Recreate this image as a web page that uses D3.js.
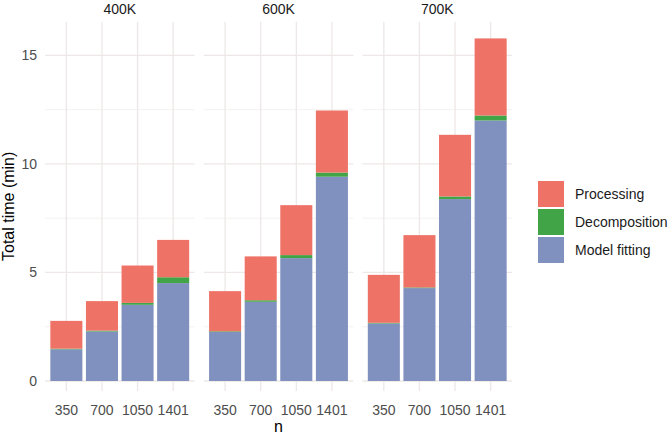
<!DOCTYPE html>
<html lang="en">
<head>
<meta charset="utf-8">
<title>Total time</title>
<script src="https://d3js.org/d3.v7.min.js"></script>
<style>
  body { margin: 0; background: #fff; }
  text { font-family: "Liberation Sans", Arial, sans-serif; }
</style>
</head>
<body>
<svg width="669" height="436"></svg>
<script>
// data (minutes)
var panels = ["400K", "600K", "700K"];
var sizes = ["350", "700", "1050", "1401"];
var modelFitting = [
  [1.46, 2.28, 3.51, 4.51],
  [2.26, 3.65, 5.66, 9.41],
  [2.65, 4.28, 8.38, 12.00]
];
var decomposition = [
  [0.03, 0.04, 0.09, 0.27],
  [0.03, 0.07, 0.14, 0.19],
  [0.03, 0.03, 0.12, 0.23]
];
var processing = [
  [1.28, 1.36, 1.72, 1.72],
  [1.85, 2.02, 2.30, 2.86],
  [2.21, 2.41, 2.84, 3.55]
];
var stages = ["Model fitting", "Decomposition", "Processing"];
var stageColors = ["#8090bf", "#41a447", "#ef7267"];

var svg = d3.select("svg");

var panelX = d3.scaleBand()
    .domain(panels)
    .range([45, 512])
    .paddingInner(0.058);

var y = d3.scaleLinear()
    .domain([-0.46, 16.55])
    .range([391, 21.7]);

var x = d3.scaleBand()
    .domain(sizes)
    .range([0, panelX.bandwidth()])
    .paddingInner(0.1)
    .paddingOuter(0.15);

var color = d3.scaleOrdinal().domain(stages).range(stageColors);

var rows = [];
panels.forEach(function(p, i) {
  sizes.forEach(function(s, j) {
    rows.push({panel: p, n: s,
      "Model fitting": modelFitting[i][j],
      "Decomposition": decomposition[i][j],
      "Processing": processing[i][j]});
  });
});
var series = d3.stack().keys(stages)(rows);

panels.forEach(function(p) {
  var g = svg.append("g")
      .attr("transform", "translate(" + panelX(p) + ",0)");

  // grid
  g.selectAll(".minor")
    .data([2.5, 7.5, 12.5])
    .enter().append("line")
      .attr("x1", 0).attr("x2", panelX.bandwidth())
      .attr("y1", function(d) { return y(d); })
      .attr("y2", function(d) { return y(d); })
      .attr("stroke", "#f3efee").attr("stroke-width", 0.8);
  g.selectAll(".major")
    .data([0, 5, 10, 15])
    .enter().append("line")
      .attr("x1", 0).attr("x2", panelX.bandwidth())
      .attr("y1", function(d) { return y(d); })
      .attr("y2", function(d) { return y(d); })
      .attr("stroke", "#ede8e7").attr("stroke-width", 1.3);
  g.selectAll(".vgrid")
    .data(sizes)
    .enter().append("line")
      .attr("x1", function(d) { return x(d) + x.bandwidth() / 2; })
      .attr("x2", function(d) { return x(d) + x.bandwidth() / 2; })
      .attr("y1", y.range()[0]).attr("y2", y.range()[1])
      .attr("stroke", "#ede8e7").attr("stroke-width", 1.3);

  // bars
  series.forEach(function(s) {
    g.selectAll(null)
      .data(s.filter(function(d) { return d.data.panel === p; }))
      .enter().append("rect")
        .attr("x", function(d) { return x(d.data.n); })
        .attr("width", x.bandwidth())
        .attr("y", function(d) { return y(d[1]); })
        .attr("height", function(d) { return y(d[0]) - y(d[1]); })
        .attr("fill", color(s.key));
  });

  // strip label
  g.append("text")
    .attr("x", panelX.bandwidth() / 2)
    .attr("y", 14)
    .attr("text-anchor", "middle")
    .attr("font-size", 14)
    .attr("fill", "#1a1a1a")
    .text(p);

  // x axis
  var ax = g.append("g")
    .attr("transform", "translate(0," + 401 + ")")
    .call(d3.axisBottom(x).tickSize(0).tickPadding(4));
  ax.select(".domain").remove();
  ax.selectAll("text")
    .attr("font-size", 14)
    .attr("fill", "#4d4d4d")
    .style("font-family", "Liberation Sans, Arial, sans-serif");
});

// y axis
var ay = svg.append("g")
  .attr("transform", "translate(39,0)")
  .call(d3.axisLeft(y).tickValues([0, 5, 10, 15]).tickSize(0).tickPadding(2));
ay.select(".domain").remove();
ay.selectAll("text")
  .attr("font-size", 14)
  .attr("fill", "#4d4d4d")
  .style("font-family", "Liberation Sans, Arial, sans-serif");

// axis titles
svg.append("text")
  .attr("transform", "translate(14," + (y.range()[0] + y.range()[1]) / 2 + ") rotate(-90)")
  .attr("text-anchor", "middle")
  .attr("font-size", 16)
  .attr("fill", "#000")
  .text("Total time (min)");

svg.append("text")
  .attr("x", (panelX.range()[0] + panelX.range()[1]) / 2)
  .attr("y", 432)
  .attr("text-anchor", "middle")
  .attr("font-size", 16)
  .attr("fill", "#000")
  .text("n");

// legend
var legendItems = stages.slice().reverse();
var lg = svg.append("g").attr("transform", "translate(538,181)");
lg.selectAll("rect")
  .data(legendItems)
  .enter().append("rect")
    .attr("x", 0)
    .attr("y", function(d, i) { return i * 28; })
    .attr("width", 26)
    .attr("height", 26)
    .attr("fill", function(d) { return color(d); });
lg.selectAll("text")
  .data(legendItems)
  .enter().append("text")
    .attr("x", 37)
    .attr("y", function(d, i) { return i * 28 + 13; })
    .attr("dy", "0.35em")
    .attr("font-size", 14)
    .attr("fill", "#1a1a1a")
    .text(function(d) { return d; });
</script>
</body>
</html>
